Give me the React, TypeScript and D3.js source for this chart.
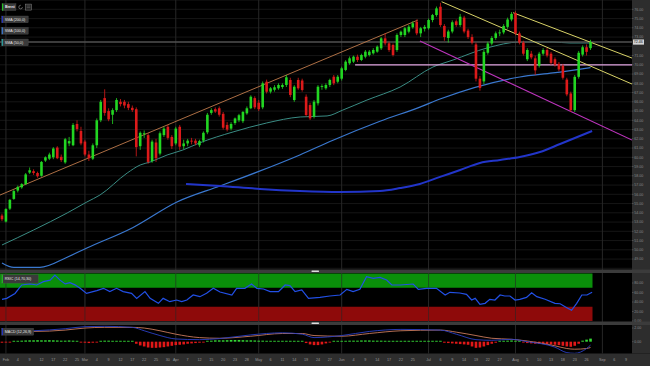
import React from "react";
import * as d3 from "d3";

// ---------- calendar ----------
const START = "2021-01-29";
const END = "2021-09-10";
const HOLIDAYS = ["2021-04-02"];
const TICK_DATES = [
  "2021-02-01","2021-02-04","2021-02-09","2021-02-12","2021-02-17","2021-02-22","2021-02-25",
  "2021-03-01","2021-03-04","2021-03-09","2021-03-12","2021-03-17","2021-03-22","2021-03-25","2021-03-30",
  "2021-04-01","2021-04-07","2021-04-12","2021-04-15","2021-04-20","2021-04-23","2021-04-28",
  "2021-05-03","2021-05-06","2021-05-11","2021-05-14","2021-05-19","2021-05-24","2021-05-27",
  "2021-06-01","2021-06-04","2021-06-09","2021-06-14","2021-06-17","2021-06-22","2021-06-25",
  "2021-07-01","2021-07-06","2021-07-09","2021-07-14","2021-07-19","2021-07-22","2021-07-27",
  "2021-08-02","2021-08-05","2021-08-10","2021-08-13","2021-08-18","2021-08-23","2021-08-26",
  "2021-09-01","2021-09-06","2021-09-09",
];

// ---------- OHLC (Brent, daily) ----------
const OPEN = [
  53.7,53.05,54.45,55.5,56.4,56.75,57.1,58.35,58.5,58.3,
  58.0,59.65,59.85,60.0,61.05,60.05,59.45,61.5,61.3,63.6,
  62.85,61.7,60.3,59.85,61.3,64.0,66.4,65.0,64.6,65.1,
  66.0,66.0,65.75,65.35,65.2,61.2,62.5,62.4,59.6,61.6,
  60.4,62.4,63.3,62.2,61.5,63.3,61.2,61.5,61.8,61.8,
  61.3,61.8,62.7,64.8,65.2,65.3,64.7,63.5,63.1,63.7,
  64.0,63.9,64.75,65.3,66.4,65.9,65.4,68.17,67.1,67.3,
  67.46,67.6,67.82,68.36,66.19,68.36,68.3,66.55,65.65,64.39,
  65.84,67.6,67.46,67.82,68.71,68.17,68.5,69.44,70.16,70.34,
  70.88,70.52,70.88,71.06,71.24,71.42,71.78,72.86,72.32,72.14,
  71.6,73.22,73.22,73.58,74.05,74.66,73.4,73.9,73.95,74.84,
  75.38,76.28,74.2,72.9,73.6,74.7,74.3,75.1,73.7,73.0,
  72.2,68.5,68.2,71.3,72.3,72.9,73.4,73.5,74.1,74.9,
  75.6,73.4,72.4,70.6,71.2,70.7,69.9,71.2,71.6,71.2,
  70.6,70.1,69.9,68.4,66.9,65.1,68.7,71.1,71.9,71.8,
];
const HIGH = [
  53.9,54.5,55.5,56.5,56.95,57.2,58.3,58.9,58.7,58.45,
  59.6,60.1,60.5,61.1,61.2,60.3,62.1,62.2,63.7,64.0,
  63.3,61.9,60.7,61.5,64.2,66.2,67.35,65.3,65.3,66.4,
  66.3,66.2,66.0,65.6,65.4,62.8,62.9,62.6,61.9,62.0,
  62.8,63.3,63.5,62.4,63.3,63.5,61.9,62.0,62.1,62.0,
  61.9,62.8,64.8,65.3,65.4,65.5,64.9,63.8,63.8,64.3,
  64.7,65.0,65.5,66.7,66.6,66.2,68.2,68.4,67.6,67.8,
  68.0,68.0,68.9,68.6,67.8,68.6,68.5,66.8,65.9,66.2,
  67.8,67.9,68.0,68.5,68.9,68.9,69.8,70.5,70.9,71.0,
  71.1,71.2,71.6,71.6,71.8,72.1,73.0,73.4,72.5,72.3,
  73.4,73.7,74.1,74.3,74.7,74.9,74.1,74.3,75.0,75.5,
  76.3,76.7,74.4,73.8,74.8,74.9,75.5,75.3,73.9,73.3,
  72.4,68.8,71.6,72.5,73.1,73.6,73.8,74.4,75.1,75.7,
  75.8,73.6,72.6,71.8,71.5,71.0,71.4,71.8,71.8,71.4,
  70.8,70.3,70.1,68.6,67.1,68.9,71.5,72.1,72.2,72.7,
];
const LOW = [
  53.1,52.95,54.3,55.4,56.2,56.6,57.0,58.2,58.1,57.8,
  57.9,59.5,59.7,59.8,59.8,59.5,59.3,61.2,61.2,62.8,
  61.3,60.1,59.6,59.7,61.0,63.8,64.5,63.9,63.6,64.9,
  65.5,65.3,65.1,64.9,60.1,60.8,62.1,59.3,59.4,59.5,
  60.2,62.2,61.9,60.9,61.3,60.8,60.9,61.2,61.4,61.3,
  61.1,61.6,62.5,64.6,64.8,64.4,63.0,62.8,62.9,63.5,
  63.8,63.7,64.6,65.2,65.2,65.0,65.2,66.9,66.9,67.1,
  67.3,67.4,67.6,66.5,66.0,67.3,67.1,64.4,64.03,64.2,
  65.6,67.3,67.3,67.6,67.8,68.0,68.3,69.3,70.0,70.2,
  70.3,70.4,70.7,70.9,71.1,71.3,71.6,72.1,71.4,70.9,
  71.4,73.0,73.0,73.4,73.9,73.2,73.0,73.6,73.8,74.6,
  75.2,74.1,72.6,72.4,73.4,74.1,74.1,73.4,72.8,72.2,
  68.2,67.2,67.9,71.1,72.1,72.7,73.1,73.3,73.9,74.7,
  73.2,72.2,71.0,70.4,70.6,68.9,69.7,71.0,70.8,70.0,
  69.8,69.3,68.4,66.6,64.9,64.9,68.5,70.9,71.0,71.6,
];
const CLOSE = [
  53.3,54.4,55.4,56.35,56.8,57.1,58.15,58.6,58.3,57.95,
  59.5,60.0,60.3,60.95,59.9,59.7,61.95,61.75,63.5,63.05,
  61.5,60.3,59.9,61.3,64.0,66.0,64.8,64.1,65.1,66.2,
  65.75,65.6,65.35,65.1,61.1,62.65,62.6,59.5,61.7,59.9,
  62.6,63.1,62.1,61.2,63.1,61.15,61.5,61.8,61.7,61.5,
  61.75,62.65,64.6,65.1,64.95,64.6,63.2,63.0,63.6,64.2,
  64.55,64.9,65.3,66.55,65.4,65.2,68.0,67.09,67.46,67.57,
  67.82,67.82,68.65,66.74,67.63,67.46,67.28,64.57,64.21,66.01,
  67.63,67.7,67.82,68.36,68.0,68.71,69.62,70.34,70.7,70.88,
  70.52,71.06,71.42,71.42,71.6,71.96,72.86,72.32,71.6,71.06,
  73.22,73.58,73.95,74.12,74.49,73.4,73.95,74.1,74.84,75.38,
  76.1,74.3,73.0,73.6,74.6,74.3,75.2,73.6,73.0,72.4,
  68.5,67.5,71.4,72.3,72.9,73.4,73.5,74.2,74.9,75.5,
  73.4,72.4,71.2,71.6,70.8,69.4,71.2,71.6,71.0,70.2,
  70.0,69.5,68.6,66.8,65.1,68.7,71.3,71.9,71.4,72.46,
];
const LAST_PRICE = 72.46;

// ---------- moving averages [bar index, value] ----------
const SMA50 = [[0,50.52],[8,52.14],[16.5,53.98],[21.5,55.17],[24.8,55.92],[31.7,58.3],[35,59.17],[37.5,59.49],[41.8,60.25],[45.8,60.79],[50,61.55],[58.5,62.74],[67,63.71],[75.5,64.36],[82.3,64.47],[86.3,65.11],[92.4,66.19],[100.8,67.6],[109.1,69.76],[114.2,70.52],[122.8,71.82],[131.1,72.46],[139.5,72.46],[143.8,72.36],[149,72.36]];
const SMA100 = [[0,48.58],[3,48.1],[9.6,48.1],[16.5,49.2],[21.5,50.2],[33.2,52.42],[44.3,55.17],[55.2,56.9],[59,57.5],[75.4,60.25],[83.8,61.85],[95.7,63.9],[105.8,65.43],[110.9,66.3],[131.1,68.68],[139.5,69.12],[149,69.7]];
const SMA200 = [[46.6,57.12],[55.2,56.9],[65.3,56.58],[75.4,56.36],[85.6,56.25],[95.7,56.36],[100.8,56.68],[105.8,57.12],[110.9,57.88],[116,58.63],[121,59.39],[126.1,59.71],[131.1,60.03],[136.2,60.57],[141.3,61.44],[149.4,62.84]];

// ---------- drawn trend lines [bar index, price] ----------
const CHANNEL_UP = [[-0.5,55.92],[105.3,74.84]];
const DOWN_A = [[111.3,76.82],[159.5,67.92]];
const DOWN_B = [[129.4,75.63],[159.5,70.73]];
const DOWN_LOW = [[105.8,72.57],[159.5,61.87]];
const LEVEL_LINE = [[89.4,70.0],[159.5,70.0]];

// ---------- RSI (14,70,30) [bar index, value] ----------
const RSI = [[0,45.7],[1.2,47.7],[3.3,58],[5,75.8],[7.1,78],[8.8,75.8],[10.5,82.8],[12.2,86],[13.4,96.8],[14.7,86],[16,78],[17.2,80.7],[18.5,76],[19.8,68.8],[21.4,58.2],[24,63.9],[25.7,68.8],[27.3,61.8],[29,68.8],[30.7,61.8],[32.8,58.2],[34.1,47.7],[36.2,61.8],[37.5,47.7],[39.6,37.2],[40.8,47.7],[42.5,40.7],[44.2,44.2],[45.5,40.7],[46.8,44.2],[48.4,54.7],[50.1,51.2],[51.8,58.2],[53.5,68.8],[55.2,61],[58.2,54.7],[59.4,68.8],[61.5,68.8],[63.2,77.9],[64.5,68.8],[66.2,67.4],[67.9,61.8],[70,61.8],[71.7,75.8],[72.9,74.4],[74.2,61.8],[75.9,65.3],[77.6,47.7],[80.5,49.8],[83,52.6],[85.6,54.7],[87.3,66.7],[88.9,61.8],[90.6,66.7],[92.3,93.3],[94,89.8],[95.7,91.9],[97.4,86.3],[98.7,75.8],[100.8,75.8],[104.1,77.9],[105.4,66.7],[107.5,68.8],[110,68.8],[112.2,54.7],[113.4,60.4],[115.9,59],[117.6,56.1],[118.9,44.2],[119.8,47.7],[121,35.1],[122.3,37.2],[123.5,45.7],[124.8,44.2],[126.1,54.7],[127.3,52.6],[128.6,52.6],[129.9,44.2],[131.1,45.7],[132.8,49.8],[134.1,59.6],[135.4,51.2],[137.5,45.7],[140,37.2],[141.3,36.3],[143,28.1],[144.2,22.5],[145.5,37.2],[146.8,54.7],[148.1,54.7],[149.4,60.4]];
const RSI_BANDS = [70, 30];
const RSI_TICKS = [80, 60, 40, 20, 0];

// ---------- MACD (12,26,9) ----------
const MACD_LINE = [[0,1.5],[8,1.6],[16,1.9],[21,2.2],[26,2.25],[33,2.1],[36,1.6],[40,0.9],[44,0.4],[50,0.3],[55,0.45],[63,1.0],[71,1.3],[76,1.1],[79,0.6],[86,0.9],[93,1.5],[101,1.8],[111,1.7],[115,1.1],[120,0.3],[124,0.2],[129,0.35],[133,0.0],[140,-0.8],[143,-1.6],[145,-1.7],[148,-1.0],[149,-0.5]];
const SIGNAL_LINE = [[0,1.6],[8,1.5],[16,1.7],[21,2.0],[26,2.1],[33,2.1],[36,2.0],[40,1.6],[44,1.1],[50,0.6],[55,0.5],[63,0.8],[71,1.2],[76,1.2],[79,0.9],[86,0.8],[93,1.2],[101,1.6],[111,1.7],[115,1.4],[120,0.9],[124,0.5],[129,0.35],[133,0.1],[140,-0.6],[143,-1.0],[145,-1.1],[148,-1.0],[149,-0.85]];
const HIST = [
  -0.15,-0.12,-0.08,
  0.05,0.1,0.15,0.18,0.2,0.2,0.22,0.2,0.2,0.22,0.2,0.18,0.15,0.15,0.18,0.15,0.1,
  -0.05,-0.15,-0.2,-0.15,-0.05,
  0.1,0.15,0.15,0.12,0.12,0.1,0.1,0.08,0.05,
  -0.3,-0.55,-0.7,-0.85,-0.9,-0.9,-0.85,-0.8,-0.7,-0.6,-0.5,-0.45,-0.4,-0.3,-0.25,-0.2,-0.15,-0.1,
  0.1,0.15,0.2,0.2,0.2,0.22,0.25,0.25,0.25,0.22,0.2,0.2,0.18,0.15,0.15,0.12,0.12,0.1,0.1,0.08,0.08,0.06,0.05,0.03,0.02,
  -0.2,-0.4,-0.5,-0.5,-0.4,-0.25,-0.1,
  0.05,0.08,0.1,0.12,0.15,0.15,0.15,0.18,0.18,0.18,0.15,0.15,0.15,0.12,0.12,0.1,0.1,0.1,0.08,0.08,0.1,0.08,0.08,0.06,0.06,0.05,0.04,0.03,
  -0.15,-0.2,-0.25,-0.3,-0.35,-0.4,-0.45,-0.7,-0.9,-0.85,-0.7,-0.5,-0.3,-0.15,
  0.05,0.1,0.15,0.18,0.12,0.05,
  -0.1,-0.2,-0.25,-0.3,-0.3,-0.35,-0.35,-0.4,-0.45,-0.5,-0.6,-0.7,-0.75,-0.6,-0.3,
  0.15,0.3,0.45,
];
const MACD_TICKS = [2, 0];

// ---------- price axis labels ----------
const PRICE_LABELS = [49,50,51,52,53,54,55,56,57,58,59,60,61,62,63,64,65,66,67,68,69,70,71,73,74,75,76];

const FONT = "'Liberation Sans', Arial, sans-serif";

export default function App() {
  const fmt = d3.utcFormat("%Y-%m-%d");
  const dates = d3
    .utcDays(new Date(START), d3.utcDay.offset(new Date(END), 1))
    .filter((d) => d.getUTCDay() !== 0 && d.getUTCDay() !== 6)
    .map(fmt)
    .filter((s) => !HOLIDAYS.includes(s));

  const PR = 632; // plot right edge
  const xi = d3.scaleLinear().domain([-0.5, dates.length - 0.5]).range([0, PR]);
  const yP = d3.scaleLinear().domain([48, 77]).range([268.3, 0.05]);
  const yR = d3.scaleLinear().domain([0, 100]).range([321, 273.5]);
  const yM = d3.scaleLinear().domain([-1.7, 2.4]).range([353.3, 325.3]);

  const smooth = d3.line<number[]>().x((d) => xi(d[0])).y((d) => yP(d[1])).curve(d3.curveMonotoneX);
  const straight = d3.line<number[]>().x((d) => xi(d[0])).y((d) => yP(d[1]));
  const rsiLine = d3.line<number[]>().x((d) => xi(d[0])).y((d) => yR(d[1]));
  const macdLine = d3.line<number[]>().x((d) => xi(d[0])).y((d) => yM(d[1])).curve(d3.curveMonotoneX);

  const monthStarts = TICK_DATES.filter((t) => {
    const i = dates.indexOf(t);
    return i === 0 || dates[i - 1].slice(5, 7) !== t.slice(5, 7);
  });
  const tickLabel = (t: string) =>
    monthStarts.includes(t) ? d3.utcFormat("%b")(new Date(t)) : String(+t.slice(8, 10));

  const lastIdx = CLOSE.length - 1;
  const bw = 2.6;

  const labelBox = (x: number, y: number, w: number, h: number, color: string, text: string, bold = false) => (
    <g>
      <rect x={x} y={y} width={w} height={h} fill="#3a3a3a" stroke="#555" strokeWidth={0.3} />
      <rect x={x} y={y} width={1.2} height={h} fill={color} />
      <text x={x + 3} y={y + h / 2 + 1.3} fontSize={3.7} fill="#e8e8e8" fontFamily={FONT} fontWeight={bold ? 700 : 400}>
        {text}
      </text>
    </g>
  );

  return (
    <svg width={650} height={366} style={{ position: "absolute", left: 0, top: 0, background: "#000" }}>
      <defs>
        <clipPath id="mainClip"><rect x={0} y={0} width={PR} height={269.5} /></clipPath>
        <clipPath id="rsiClip"><rect x={0} y={273} width={PR} height={48.5} /></clipPath>
        <clipPath id="macdClip"><rect x={0} y={325} width={PR} height={28.5} /></clipPath>
      </defs>
      <rect x={0} y={0} width={650} height={366} fill="#000" />

      {/* main panel grid */}
      <g clipPath="url(#mainClip)">
        {d3.range(48, 78).map((v) => (
          <line key={"h" + v} x1={0} x2={PR} y1={yP(v)} y2={yP(v)} stroke="#161616" strokeWidth={1} />
        ))}
      </g>
      {monthStarts.map((t) => (
        <line key={"v" + t} x1={xi(dates.indexOf(t))} x2={xi(dates.indexOf(t))} y1={0} y2={353.5} stroke="#272727" strokeWidth={1} />
      ))}

      <g clipPath="url(#mainClip)">
        {/* moving averages */}
        <path d={smooth(SMA100) || ""} fill="none" stroke="#3a78cf" strokeWidth={1.2} />
        <path d={smooth(SMA50) || ""} fill="none" stroke="#3a8c84" strokeWidth={1} />
        <path d={smooth(SMA200) || ""} fill="none" stroke="#2235c9" strokeWidth={2} />

        {/* last price line */}
        <line x1={0} x2={PR} y1={yP(LAST_PRICE)} y2={yP(LAST_PRICE)} stroke="#505050" strokeWidth={1.4} />

        {/* drawn lines */}
        <path d={straight(CHANNEL_UP) || ""} fill="none" stroke="#c07a4c" strokeWidth={0.9} />
        <path d={straight(LEVEL_LINE) || ""} fill="none" stroke="#e2a6e2" strokeWidth={1.3} />
        <path d={straight(DOWN_LOW) || ""} fill="none" stroke="#bd34bd" strokeWidth={1.1} />
        <path d={straight(DOWN_A) || ""} fill="none" stroke="#d8d268" strokeWidth={1} />
        <path d={straight(DOWN_B) || ""} fill="none" stroke="#d8d268" strokeWidth={1} />

        {/* candles */}
        {CLOSE.map((c, i) => {
          const o = OPEN[i];
          const up = c >= o;
          const col = up ? "#22d622" : "#dc1a1a";
          const x = xi(i);
          const top = yP(Math.max(o, c));
          const h = Math.max(0.8, Math.abs(yP(o) - yP(c)));
          return (
            <g key={"c" + i}>
              <line x1={x} x2={x} y1={yP(HIGH[i])} y2={yP(LOW[i])} stroke={col} strokeWidth={0.8} />
              <rect x={x - bw / 2} y={top} width={bw} height={h} fill={col} />
            </g>
          );
        })}
      </g>

      {/* RSI panel */}
      <g clipPath="url(#rsiClip)">
        <rect x={0} y={yR(100)} width={xi(lastIdx + 0.5)} height={yR(RSI_BANDS[0]) - yR(100)} fill="#0a8f0a" />
        <rect x={0} y={yR(RSI_BANDS[1])} width={xi(lastIdx + 0.5)} height={yR(0) - yR(RSI_BANDS[1])} fill="#8e0a0a" />
        {monthStarts.map((t) => (
          <line key={"rv" + t} x1={xi(dates.indexOf(t))} x2={xi(dates.indexOf(t))} y1={273} y2={321.5} stroke="#272727" strokeWidth={1} opacity={0.6} />
        ))}
        <path d={rsiLine(RSI) || ""} fill="none" stroke="#2250e6" strokeWidth={1.2} />
      </g>

      {/* MACD panel */}
      <g clipPath="url(#macdClip)">
        {HIST.map((v, i) => {
          const y0 = yM(0);
          const y1 = yM(v);
          const h = Math.max(0.9, Math.abs(y1 - y0));
          return (
            <rect key={"m" + i} x={xi(i) - bw / 2} y={v >= 0 ? y0 - h : y0} width={bw} height={h} fill={v >= 0 ? "#34d634" : "#e01818"} />
          );
        })}
        <path d={macdLine(SIGNAL_LINE) || ""} fill="none" stroke="#c97a5c" strokeWidth={0.9} />
        <path d={macdLine(MACD_LINE) || ""} fill="none" stroke="#2a3fc4" strokeWidth={0.9} />
      </g>

      {/* right axis strip */}
      <rect x={PR} y={0} width={650 - PR} height={353.5} fill="#2d2d2d" />
      {PRICE_LABELS.map((v) => (
        <g key={"pl" + v}>
          <line x1={PR} x2={PR + 1.5} y1={yP(v)} y2={yP(v)} stroke="#777" strokeWidth={0.5} />
          <text x={PR + 2.2} y={yP(v) + 1.3} fontSize={3.6} fill="#8a8a8a" fontFamily={FONT}>{v.toFixed(2)}</text>
        </g>
      ))}
      <rect x={PR + 1} y={yP(LAST_PRICE) - 2.6} width={11} height={5.2} fill="#d4d4d4" />
      <text x={PR + 1.8} y={yP(LAST_PRICE) + 1.3} fontSize={3.6} fill="#111" fontFamily={FONT}>{LAST_PRICE.toFixed(2)}</text>
      {RSI_TICKS.map((v) => (
        <g key={"rl" + v}>
          <line x1={PR} x2={PR + 1.5} y1={yR(v)} y2={yR(v)} stroke="#777" strokeWidth={0.5} />
          <text x={PR + 2.2} y={yR(v) + 1.3} fontSize={3.6} fill="#8a8a8a" fontFamily={FONT}>{v.toFixed(2)}</text>
        </g>
      ))}
      {MACD_TICKS.map((v) => (
        <g key={"ml" + v}>
          <line x1={PR} x2={PR + 1.5} y1={yM(v)} y2={yM(v)} stroke="#777" strokeWidth={0.5} />
          <text x={PR + 2.2} y={yM(v) + 1.3} fontSize={3.6} fill="#8a8a8a" fontFamily={FONT}>{v.toFixed(2)}</text>
        </g>
      ))}

      {/* dividers */}
      <rect x={0} y={269.5} width={650} height={3.5} fill="#3b3b3b" />
      <rect x={311.5} y={270.6} width={7.5} height={1.4} fill="#dcdcdc" rx={0.4} />
      <rect x={0} y={321.5} width={650} height={3.5} fill="#3b3b3b" />
      <rect x={311.5} y={322.6} width={7.5} height={1.4} fill="#dcdcdc" rx={0.4} />

      {/* x axis */}
      <rect x={0} y={353.5} width={650} height={12.5} fill="#2e2e2e" />
      {TICK_DATES.map((t) => (
        <text key={"xt" + t} x={xi(dates.indexOf(t))} y={361.3} fontSize={3.7} fill="#9a9a9a" textAnchor="middle" fontFamily={FONT}>
          {tickLabel(t)}
        </text>
      ))}

      {/* legend boxes */}
      {labelBox(2, 3.6, 14, 7, "#22c322", "Brent", true)}
      <circle cx={20.6} cy={7.1} r={1.8} fill="none" stroke="#9a9a9a" strokeWidth={0.6} strokeDasharray="8 3" />
      <rect x={25.5} y={4.1} width={6} height={6} fill="#222" stroke="#8a8a8a" strokeWidth={0.5} />
      <line x1={26.7} x2={30.3} y1={6} y2={6} stroke="#8a8a8a" strokeWidth={0.4} />
      <line x1={26.7} x2={30.3} y1={7.6} y2={7.6} stroke="#8a8a8a" strokeWidth={0.4} />
      {labelBox(1.7, 16, 26.6, 6.8, "#2536c8", "SMA (200,0)")}
      {labelBox(1.7, 27.4, 26.6, 6.8, "#3a78cf", "SMA (100,0)")}
      {labelBox(1.7, 39, 26.6, 6.8, "#2aa3a3", "SMA (50,0)")}
      {labelBox(1.7, 274.6, 36.5, 8.5, "#22c322", "RSIC (14,70,30)")}
      {labelBox(1.7, 328.2, 32, 7, "#2536c8", "MACD (12,26,9)")}
    </svg>
  );
}
